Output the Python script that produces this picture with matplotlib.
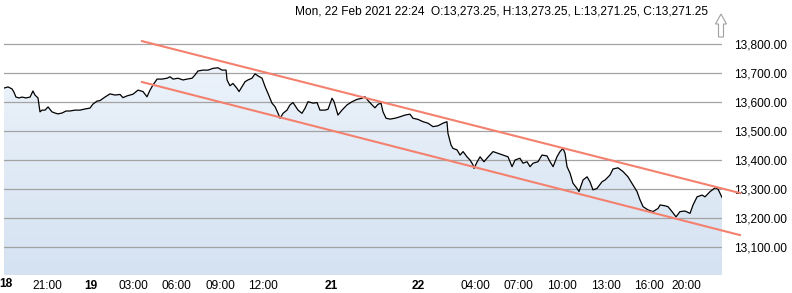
import numpy as np
import matplotlib
matplotlib.use("Agg")
import matplotlib.pyplot as plt
from matplotlib.patches import Polygon

plt.rcParams['font.family'] = ['Liberation Sans', 'DejaVu Sans']

# trading hours since Thu 18:00 (weekend removed) and last price
hours = [0.0, 0.28, 0.56, 0.69, 0.83, 1.04, 1.25, 1.53, 1.81, 2.01, 2.15, 2.36, 2.5, 2.64, 2.85,
         3.06, 3.33, 3.54, 3.75, 4.03, 4.31, 4.58, 4.93, 5.28, 5.63, 5.97, 6.18, 6.46, 6.67, 7.01,
         7.36, 7.71, 8.06, 8.26, 8.54, 8.96, 9.31, 9.65, 9.93, 10.14, 10.35, 10.63, 10.97, 11.32,
         11.53, 11.74, 12.08, 12.43, 12.71, 13.06, 13.26, 13.47, 13.82, 14.17, 14.51, 14.86, 15.14,
         15.42, 15.49, 15.69, 15.9, 16.18, 16.32, 16.53, 16.74, 16.94, 17.22, 17.43, 17.64, 17.92,
         18.13, 18.33, 18.61, 18.82, 19.03, 19.17, 19.38, 19.65, 19.86, 20.07, 20.42, 20.69, 20.9,
         21.11, 21.46, 21.74, 21.94, 22.29, 22.5, 22.78, 22.92, 23.13, 23.19, 23.47, 23.82, 24.17,
         24.51, 24.86, 25.07, 25.28, 25.56, 25.76, 25.97, 26.18, 26.32, 26.53, 26.81, 27.15, 27.5,
         27.85, 28.19, 28.4, 28.75, 29.1, 29.44, 29.79, 30.14, 30.49, 30.76, 30.83, 31.04, 31.18,
         31.46, 31.67, 31.88, 32.15, 32.36, 32.57, 32.64, 32.85, 33.06, 33.33, 33.61, 33.96, 34.31,
         34.65, 35.0, 35.28, 35.49, 35.83, 36.04, 36.32, 36.53, 36.74, 37.08, 37.36, 37.71, 37.92,
         38.13, 38.4, 38.61, 38.82, 38.96, 39.1, 39.31, 39.51, 39.79, 39.93, 40.21, 40.49, 40.69,
         40.9, 41.18, 41.53, 41.74, 42.08, 42.29, 42.64, 42.99, 43.33, 43.68, 43.96, 44.17, 44.38,
         44.72, 45.07, 45.42, 45.56, 45.9, 46.11, 46.39, 46.67, 46.94, 47.29, 47.64, 47.85, 48.13,
         48.47, 48.68, 49.03, 49.38, 49.58, 49.86]
price = [13648, 13652, 13645, 13634, 13617, 13614, 13617, 13614, 13617, 13638, 13624, 13614, 13566,
         13572, 13572, 13583, 13566, 13562, 13559, 13562, 13569, 13569, 13572, 13572, 13576, 13579,
         13593, 13603, 13605, 13617, 13628, 13624, 13626, 13615, 13621, 13627, 13641, 13636, 13618,
         13641, 13659, 13679, 13679, 13682, 13687, 13679, 13682, 13676, 13679, 13682, 13693, 13707,
         13710, 13710, 13716, 13718, 13710, 13710, 13676, 13656, 13664, 13647, 13636, 13653, 13670,
         13676, 13682, 13697, 13690, 13682, 13653, 13630, 13596, 13584, 13561, 13544, 13561, 13572,
         13590, 13598, 13572, 13561, 13578, 13601, 13596, 13598, 13572, 13572, 13575, 13613, 13601,
         13566, 13555, 13572, 13590, 13601, 13609, 13613, 13618, 13605, 13590, 13580, 13592, 13596,
         13566, 13544, 13541, 13544, 13549, 13555, 13558, 13544, 13540, 13532, 13527, 13515, 13518,
         13527, 13532, 13492, 13452, 13440, 13435, 13417, 13429, 13411, 13400, 13383, 13371, 13393,
         13411, 13394, 13410, 13429, 13423, 13417, 13411, 13377, 13400, 13406, 13389, 13394, 13377,
         13389, 13394, 13417, 13414, 13394, 13377, 13411, 13429, 13440, 13423, 13377, 13354, 13320,
         13302, 13291, 13331, 13342, 13325, 13297, 13302, 13325, 13331, 13348, 13369, 13373, 13360,
         13342, 13314, 13291, 13262, 13239, 13228, 13222, 13233, 13245, 13242, 13239, 13222, 13204,
         13222, 13224, 13216, 13245, 13273, 13279, 13273, 13291, 13304, 13300, 13271]

# channel lines (start / end)
upper_h = [9.58, 51.11]
upper_p = [13810, 13286]
lower_h = [9.58, 51.11]
lower_p = [13669, 13141]

tick_pos = [3, 6, 9, 12, 15, 18, 22.7, 28.8, 32.7, 35.7, 38.75, 41.8, 44.8, 47.4]
tick_lbl = ['21:00', '19', '03:00', '06:00', '09:00', '12:00', '21', '22',
            '04:00', '07:00', '10:00', '13:00', '16:00', '20:00']
first_lbl = '18'
bold_lbl = ['18', '19', '21', '22']
y_ticks = [13100, 13200, 13300, 13400, 13500, 13600, 13700, 13800]

W, H = 792, 293
fig = plt.figure(figsize=(W / 100, H / 100), dpi=100)
ax = fig.add_axes([4 / W, (H - 275) / H, (722 - 4) / W, (275 - 30) / H])
ymin, ymax = 13003.4, 13848.3
ax.set_xlim(0, 49.86)
ax.set_ylim(ymin, ymax)

# gradient fill under the price line
grad = np.linspace(0, 1, 256).reshape(-1, 1)
cmap = matplotlib.colors.LinearSegmentedColormap.from_list('bg', ['#d5e2f1', '#eff5fc'])
img = ax.imshow(grad, cmap=cmap, aspect='auto', origin='lower',
                extent=[0, 49.86, ymin, ymax], zorder=0)
poly = ax.fill_between(hours, price, ymin, color='none', lw=0)
img.set_clip_path(poly.get_paths()[0], transform=ax.transData)

for v in y_ticks:
    ax.axhline(v, color='#a3a3a3', lw=0.9, zorder=1)

ax.plot(hours, price, color='black', lw=0.9, zorder=3)
ax.plot(upper_h, upper_p, color='#f4806e', lw=1.5, zorder=4, clip_on=False)
ax.plot(lower_h, lower_p, color='#f4806e', lw=1.5, zorder=4, clip_on=False)

for s in ax.spines.values():
    s.set_visible(False)
ax.yaxis.tick_right()
ax.set_yticks(y_ticks)
ax.set_yticklabels(['{:,.2f}'.format(v) for v in y_ticks])
ax.tick_params(axis='y', length=0, pad=8.5, labelsize=8.6)
ax.set_xticks(tick_pos)
ax.set_xticklabels(tick_lbl)
ax.tick_params(axis='x', length=0, pad=3.5, labelsize=8.6)
for t in ax.get_xticklabels():
    if t.get_text() in bold_lbl:
        t.set_fontweight('bold')

# first day label sits at the very left edge
ax.annotate(first_lbl, xy=(0, 0), xycoords=('data', 'axes fraction'),
            xytext=(2, -9), textcoords='offset pixels', ha='center', va='center',
            fontsize=8.6, fontweight='bold', annotation_clip=False)

fig.text(295 / W, 1 - 12 / H,
         'Mon, 22 Feb 2021 22:24  O:13,273.25, H:13,273.25, L:13,271.25, C:13,271.25',
         fontsize=8.6, va='center', ha='left')

# small hollow up arrow in the corner
arrow = [(721, 14), (726.5, 24), (723.5, 24), (723.5, 37), (718.5, 37), (718.5, 24), (715.5, 24)]
fig.patches.append(Polygon([(x / W, 1 - y / H) for x, y in arrow], closed=True,
                           transform=fig.transFigure, fc='white', ec='#a0a0a0', lw=0.8))

fig.savefig('out.png', dpi=100)
